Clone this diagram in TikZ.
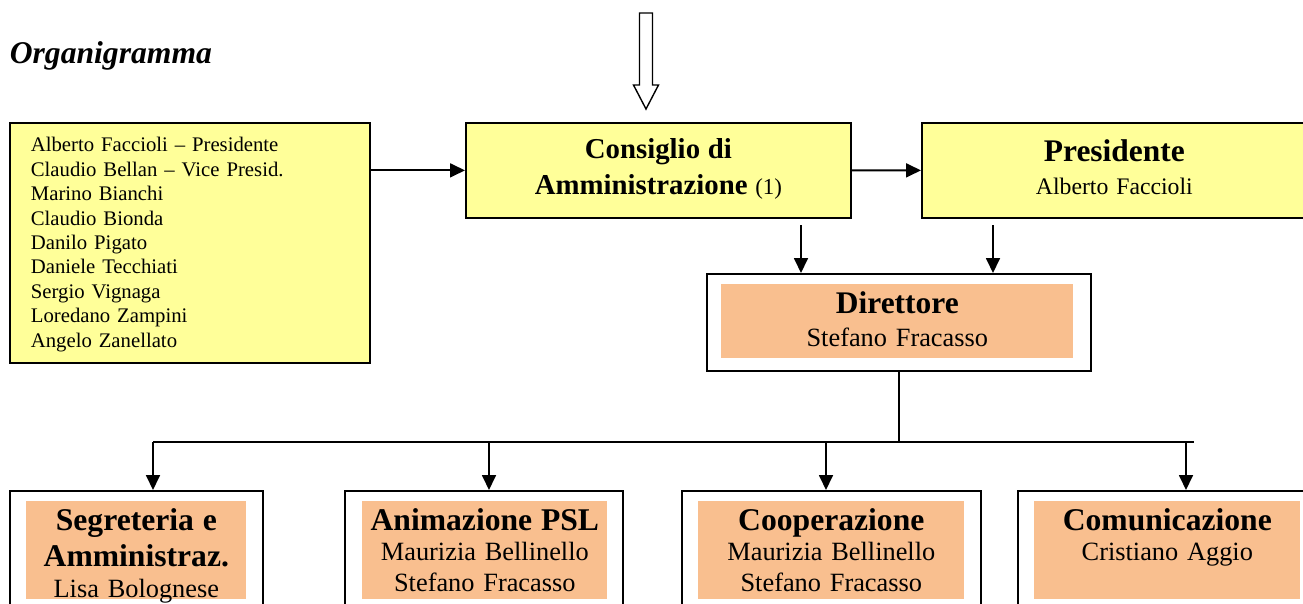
\documentclass[tikz,border=0pt]{standalone}
\usepackage{fontspec}
\setmainfont{Liberation Serif}
\usetikzlibrary{arrows.meta}
\definecolor{giallo}{HTML}{FFFF99}
\definecolor{arancio}{HTML}{F9BF8F}
\newcommand{\ruolo}[2][18]{{\fontsize{#1}{#1}\selectfont\bfseries #2}}

\begin{document}
\begin{tikzpicture}[x=0.02cm,y=-0.02cm,
    box/.style={inner sep=0pt,anchor=north west,align=center},
    giallo box/.style={box,draw,line width=1pt,fill=giallo,text width=7.7cm},
    cornice/.style={box,draw,line width=1pt,fill=white},
    arancio box/.style={box,fill=arancio,text height=0.58cm,text depth=1.38cm,
      font=\fontsize{15}{17.4}\selectfont},
    arr/.style={line width=1pt,-{Triangle[length=0.3cm,width=0.28cm]}}]
      \useasboundingbox (0,0) rectangle (1303,603);
      \clip (0,0) rectangle (1303,603);
      \node [anchor=base west,inner sep=0pt,font=\fontsize{18}{18}\selectfont\bfseries\itshape] (titolo) at (9.5,63) {Organigramma};
      % freccia vuota in alto
      \draw [line width=0.8pt,fill=white] (639.5,13) -- (652.5,13) -- (652.5,85) -- (658.5,85)
        -- (646,109) -- (633.5,85) -- (639.5,85) -- cycle;
      \node [giallo box,text width=6.36cm,inner xsep=0.42cm,align=left,
        text height=0.58cm,text depth=4.22cm,font=\fontsize{11.8}{13.9}\selectfont] (membri) at (9,122)
        {Alberto Faccioli – Presidente\\Claudio Bellan – Vice Presid.\\Marino Bianchi\\Claudio Bionda\\
         Danilo Pigato\\Daniele Tecchiati\\Sergio Vignaga\\Loredano Zampini\\Angelo Zanellato};
      \node [giallo box,text height=0.714cm,text depth=1.186cm,font=\fontsize{13}{20.2}\selectfont] (cda) at (465,122)
        {\ruolo[16.4]{Consiglio di}\\\ruolo[16.4]{Amministrazione} (1)};
      \node [giallo box,text height=0.78cm,text depth=1.12cm,font=\fontsize{13.5}{18.3}\selectfont] (pres) at (921,122)
        {\ruolo[17.9]{Presidente}\\Alberto Faccioli};
      \node [cornice,minimum width=7.68cm,minimum height=1.94cm] (dir) at (706,273) {};
      \node [arancio box,text width=7.04cm,text height=0.586cm,text depth=0.894cm,
        font=\fontsize{15}{18.9}\selectfont] (dirin) at (721,284) {\ruolo[17.9]{Direttore}\\Stefano Fracasso};
      % uffici
      \node [cornice,minimum width=5.06cm,minimum height=3cm] (u1) at (9,490) {};
      \node [cornice,minimum width=5.56cm,minimum height=3cm] (u2) at (344,490) {};
      \node [cornice,minimum width=5.98cm,minimum height=3cm] (u3) at (681,490) {};
      \node [cornice,minimum width=6cm,minimum height=3cm] (u4) at (1017,490) {};
      \node [arancio box,text width=4.4cm] (o1) at (26,501) {\ruolo{Segreteria e}\\[3.4pt]\ruolo{Amministraz.}\\Lisa Bolognese};
      \node [arancio box,text width=4.9cm] (o2) at (362,501) {\ruolo{Animazione PSL}\\Maurizia Bellinello\\Stefano Fracasso};
      \node [arancio box,text width=5.32cm] (o3) at (698,501) {\ruolo{Cooperazione}\\Maurizia Bellinello\\Stefano Fracasso};
      \node [arancio box,text width=5.32cm] (o4) at (1034,501) {\ruolo{Comunicazione}\\Cristiano Aggio};
      % collegamenti
      \draw [arr] (membri.east |- cda.west) -- (cda.west);
      \draw [arr] (cda.east) -- (pres.west);
      \coordinate (k1) at (801,225);
      \coordinate (k2) at (993,225);
      \draw [arr] (k1) -- (k1 |- dir.north);
      \draw [arr] (k2) -- (k2 |- dir.north);
      \coordinate (bus) at (898,442);
      \coordinate (fine) at (1194,442);
      \draw [line width=1pt] (dir.south) -- (dir.south |- bus);
      \foreach \x [count=\i] in {153,489,826,1186}
        \coordinate (b\i) at (\x,442);
      \draw [line width=1pt] (b1) -- (fine);
      \foreach \i in {1,...,4}
        \draw [arr] (b\i) -- (b\i |- u\i.north);
\end{tikzpicture}
\end{document}
